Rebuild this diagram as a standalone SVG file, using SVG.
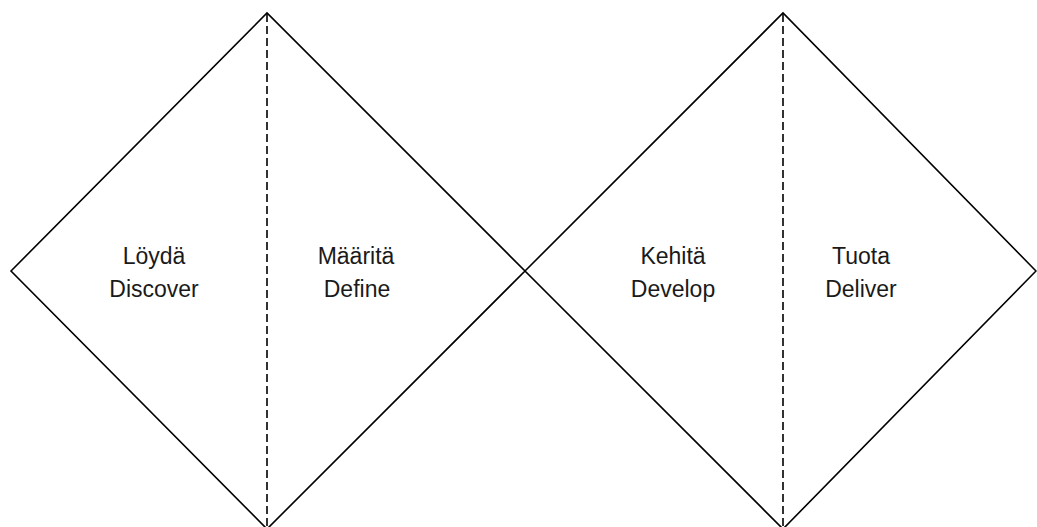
<svg xmlns="http://www.w3.org/2000/svg" width="1037" height="527" viewBox="0 0 1037 527">
<style>
.shape{fill:none;stroke:#000;stroke-width:1.6}
.dash{fill:none;stroke:#000;stroke-width:1.6;stroke-dasharray:8 4}
.lbl{font-family:"Liberation Sans",Arial,sans-serif;font-size:23px;fill:#1a1a1a;text-anchor:middle}
</style>
<rect width="1037" height="527" fill="#fff"/>
<g id="diamond1">
<polygon class="shape" points="11,271 267,13 525,271 267,529"/>
</g>
<g id="diamond2">
<polygon class="shape" points="525,271 783,13 1036,271 783,529"/>
</g>
<g id="connectors">
<line class="dash" x1="267" y1="14" x2="267" y2="527"/>
<line class="dash" x1="783" y1="14" x2="783" y2="527"/>
</g>
<g id="discover">
<text class="lbl" x="154" y="264">Löydä</text>
<text class="lbl" x="154" y="297">Discover</text>
</g>
<g id="define">
<text class="lbl" x="356" y="264">Määritä</text>
<text class="lbl" x="357" y="297">Define</text>
</g>
<g id="develop">
<text class="lbl" x="673" y="264">Kehitä</text>
<text class="lbl" x="673" y="297">Develop</text>
</g>
<g id="deliver">
<text class="lbl" x="861" y="264">Tuota</text>
<text class="lbl" x="861" y="297">Deliver</text>
</g>
</svg>
